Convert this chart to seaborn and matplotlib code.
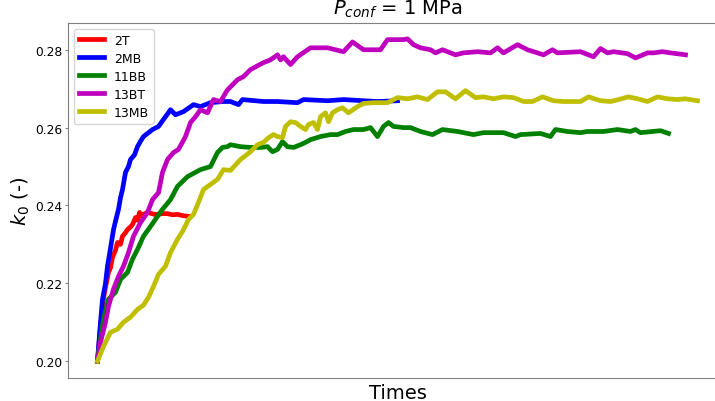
import pandas as pd
import seaborn as sns
from matplotlib import pyplot as plt
from matplotlib.lines import Line2D

labels = ['2T', '2MB', '11BB', '13BT', '13MB']
colors = ['r', 'b', 'g', 'm', 'y']

# 2T
t_2t = [0, 2, 4, 6, 8, 11, 13, 15, 18, 20, 23, 25, 28, 30, 33, 35, 38, 40, 42, 44,
        46, 50, 53, 57, 60, 65, 70, 75, 80, 85, 91]
k_2t = [0.2000, 0.2060, 0.2110, 0.2159, 0.2190, 0.2228, 0.2240, 0.2267, 0.2285, 0.2305,
        0.2300, 0.2321, 0.2330, 0.2338, 0.2345, 0.2351, 0.2369, 0.2362, 0.2382, 0.2374,
        0.2377, 0.2382, 0.2380, 0.2377, 0.2377, 0.2379, 0.2379, 0.2376, 0.2377, 0.2374,
        0.2372]

# 2MB
t_2mb = [0, 3, 5, 8, 10, 13, 16, 19, 21, 23, 25, 28, 31, 33, 37, 40, 43, 46, 50, 55,
         61, 66, 70, 73, 78, 86, 96, 103, 113, 126, 133, 141, 145, 166, 180, 200, 206,
         230, 246, 266, 280, 300]
k_2mb = [0.2000, 0.2100, 0.2159, 0.2200, 0.2244, 0.2290, 0.2338, 0.2370, 0.2390, 0.2420,
         0.2441, 0.2485, 0.2500, 0.2518, 0.2530, 0.2551, 0.2565, 0.2577, 0.2585, 0.2595,
         0.2603, 0.2621, 0.2635, 0.2646, 0.2633, 0.2641, 0.2659, 0.2654, 0.2664, 0.2667,
         0.2667, 0.2659, 0.2672, 0.2667, 0.2667, 0.2664, 0.2672, 0.2669, 0.2672, 0.2669,
         0.2667, 0.2669]

# 11BB
t_11bb = [0, 1, 6, 11, 18, 23, 30, 35, 40, 46, 53, 60, 65, 73, 80, 90, 103, 113, 120, 125,
          130, 133, 143, 153, 163, 170, 175, 180, 185, 190, 196, 203, 208, 213, 223, 233,
          240, 248, 256, 266, 273, 280, 286, 291, 296, 306, 313, 323, 335, 345, 360, 376,
          386, 406, 418, 423, 443, 453, 458, 470, 483, 490, 506, 520, 533, 538, 543, 563,
          571]
k_11bb = [0.2000, 0.2023, 0.2108, 0.2159, 0.2177, 0.2210, 0.2228, 0.2262, 0.2287, 0.2321,
          0.2346, 0.2372, 0.2390, 0.2415, 0.2449, 0.2474, 0.2492, 0.2500, 0.2536, 0.2549,
          0.2551, 0.2556, 0.2551, 0.2549, 0.2549, 0.2551, 0.2538, 0.2544, 0.2564, 0.2551,
          0.2549, 0.2556, 0.2562, 0.2569, 0.2577, 0.2582, 0.2582, 0.2590, 0.2595, 0.2595,
          0.2600, 0.2577, 0.2603, 0.2613, 0.2603, 0.2600, 0.2600, 0.2590, 0.2582, 0.2595,
          0.2590, 0.2582, 0.2587, 0.2587, 0.2577, 0.2582, 0.2585, 0.2577, 0.2595, 0.2590,
          0.2587, 0.2590, 0.2590, 0.2595, 0.2590, 0.2595, 0.2587, 0.2592, 0.2585]

# 13BT
t_13bt = [0, 3, 8, 11, 16, 21, 26, 31, 36, 43, 50, 55, 61, 65, 70, 76, 81, 88, 93, 98,
          103, 110, 116, 123, 130, 140, 146, 153, 166, 173, 180, 183, 186, 193, 200, 213,
          230, 246, 255, 266, 283, 290, 306, 310, 316, 323, 333, 338, 345, 358, 366, 380,
          393, 400, 406, 420, 430, 446, 455, 460, 483, 496, 503, 510, 516, 530, 538, 550,
          556, 565, 573, 588]
k_13bt = [0.2000, 0.2049, 0.2100, 0.2141, 0.2185, 0.2218, 0.2244, 0.2279, 0.2321, 0.2356,
          0.2382, 0.2415, 0.2433, 0.2485, 0.2518, 0.2536, 0.2544, 0.2577, 0.2613, 0.2628,
          0.2646, 0.2638, 0.2672, 0.2667, 0.2697, 0.2723, 0.2731, 0.2749, 0.2767, 0.2774,
          0.2787, 0.2774, 0.2782, 0.2762, 0.2782, 0.2805, 0.2805, 0.2795, 0.2820, 0.2800,
          0.2800, 0.2826, 0.2826, 0.2828, 0.2813, 0.2805, 0.2800, 0.2792, 0.2800, 0.2787,
          0.2792, 0.2795, 0.2792, 0.2805, 0.2792, 0.2813, 0.2800, 0.2787, 0.2800, 0.2792,
          0.2795, 0.2782, 0.2803, 0.2792, 0.2795, 0.2790, 0.2779, 0.2792, 0.2792, 0.2795,
          0.2792, 0.2787]

# 13MB
t_13mb = [0, 6, 13, 20, 26, 33, 40, 46, 51, 56, 61, 68, 73, 80, 85, 91, 96, 101, 106, 113,
          120, 126, 133, 143, 153, 160, 166, 171, 176, 180, 185, 188, 193, 198, 203, 208,
          211, 216, 220, 223, 228, 231, 235, 240, 245, 251, 260, 266, 276, 290, 300, 310,
          320, 330, 340, 348, 358, 368, 378, 386, 396, 406, 416, 426, 435, 445, 456, 466,
          483, 491, 503, 513, 521, 531, 540, 550, 560, 570, 580, 588, 600]
k_13mb = [0.2000, 0.2038, 0.2074, 0.2082, 0.2100, 0.2113, 0.2133, 0.2144, 0.2164, 0.2192,
          0.2223, 0.2244, 0.2279, 0.2313, 0.2333, 0.2364, 0.2377, 0.2408, 0.2441, 0.2454,
          0.2467, 0.2492, 0.2490, 0.2518, 0.2538, 0.2556, 0.2562, 0.2574, 0.2582, 0.2577,
          0.2574, 0.2603, 0.2615, 0.2613, 0.2603, 0.2595, 0.2608, 0.2613, 0.2595, 0.2628,
          0.2638, 0.2615, 0.2638, 0.2646, 0.2651, 0.2638, 0.2654, 0.2662, 0.2664, 0.2664,
          0.2677, 0.2674, 0.2679, 0.2672, 0.2692, 0.2692, 0.2674, 0.2695, 0.2677, 0.2679,
          0.2674, 0.2679, 0.2677, 0.2667, 0.2667, 0.2679, 0.2669, 0.2667, 0.2667, 0.2679,
          0.2669, 0.2667, 0.2672, 0.2679, 0.2674, 0.2667, 0.2679, 0.2674, 0.2672, 0.2674,
          0.2669]

times = [t_2t, t_2mb, t_11bb, t_13bt, t_13mb]
values = [k_2t, k_2mb, k_11bb, k_13bt, k_13mb]

frames = []
for name, t, k in zip(labels, times, values):
    frames.append(pd.DataFrame({'time': t, 'k0': k, 'sample': name}))
df = pd.concat(frames, ignore_index=True)

fig = plt.figure(figsize=(7.15, 4.02), dpi=100)
ax = fig.add_axes([67.5 / 715, 23.5 / 402, 660 / 715, 355 / 402])

lw = 3.4
sns.lineplot(data=df, x='time', y='k0', hue='sample', hue_order=labels,
             palette=dict(zip(labels, colors)), sort=False, estimator=None,
             linewidth=lw, legend=False, ax=ax)

ax.set_ylim(0.1958, 0.2870)
ax.set_yticks([0.20, 0.22, 0.24, 0.26, 0.28])
ax.set_xticks([])
ax.tick_params(axis='y', labelsize=8.8, color='0.5', length=2.5, pad=1.2)
for sp in ax.spines.values():
    sp.set_color('0.5')

ax.set_xlabel('Times', fontsize=14)
ax.set_ylabel(r'$k_0$ (-)', fontsize=14, labelpad=2.5)
ax.set_title(r'$P_{conf}$ = 1 MPa', fontsize=14)

handles = [Line2D([], [], color=c, lw=lw) for c in colors]
ax.legend(handles, labels, loc='upper left', fontsize=9, labelspacing=0.4)

fig.savefig('out.png', dpi=100)
